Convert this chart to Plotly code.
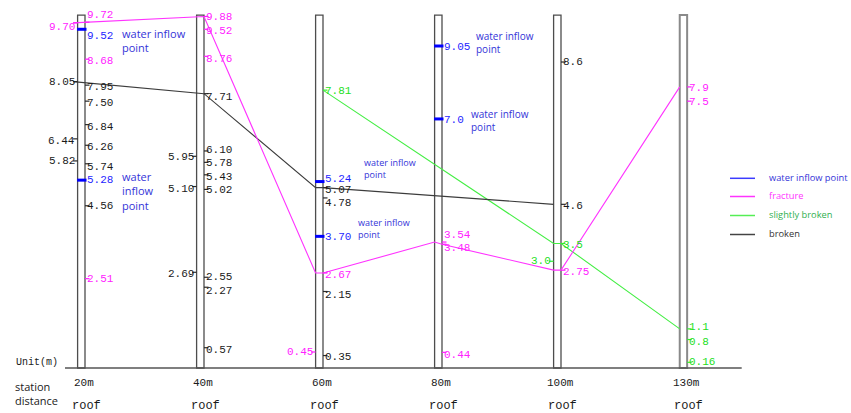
import plotly.graph_objects as go

# ---------------------------------------------------------------------------
# Data: roof observation boreholes (depth marks in metres)
# ---------------------------------------------------------------------------
stations = ["20m", "40m", "60m", "80m", "100m", "130m"]
station_slot = [0, 1, 2, 3, 4, 5.06]          # horizontal slot of each column
column_top = 9.92                              # drawn height of each borehole column (m)

# (label, kind, side) - side "R" = mark on right of column, "L" = on left
marks_20m = [("9.72", "fracture", "R"), ("9.52", "water", "R"), ("8.68", "fracture", "R"),
             ("7.95", "broken", "R"), ("7.50", "broken", "R"), ("6.84", "broken", "R"),
             ("6.26", "broken", "R"), ("5.74", "broken", "R"), ("5.28", "water", "R"),
             ("4.56", "broken", "R"), ("2.51", "fracture", "R"),
             ("9.70", "fracture", "L"), ("8.05", "broken", "L"), ("6.44", "broken", "L"),
             ("5.82", "broken", "L")]
marks_40m = [("9.88", "fracture", "R"), ("9.52", "fracture", "R"), ("8.76", "fracture", "R"),
             ("7.71", "broken", "R"), ("6.10", "broken", "R"), ("5.78", "broken", "R"),
             ("5.43", "broken", "R"), ("5.02", "broken", "R"), ("2.55", "broken", "R"),
             ("2.27", "broken", "R"), ("0.57", "broken", "R"),
             ("5.95", "broken", "L"), ("5.10", "broken", "L"), ("2.69", "broken", "L")]
marks_60m = [("7.81", "slight", "R"), ("5.24", "water", "R"), ("5.07", "broken", "R"),
             ("4.78", "broken", "R"), ("3.70", "water", "R"), ("2.67", "fracture", "R"),
             ("2.15", "broken", "R"), ("0.35", "broken", "R"),
             ("0.45", "fracture", "L")]
marks_80m = [("9.05", "water", "R"), ("7.0", "water", "R"), ("3.54", "fracture", "R"),
             ("3.48", "fracture", "R"), ("0.44", "fracture", "R")]
marks_100m = [("8.6", "broken", "R"), ("4.6", "broken", "R"), ("3.5", "slight", "R"),
              ("2.75", "fracture", "R"), ("3.0", "slight", "L")]
marks_130m = [("7.9", "fracture", "R"), ("7.5", "fracture", "R"), ("1.1", "slight", "R"),
              ("0.8", "slight", "R"), ("0.16", "slight", "R")]

station_marks = [marks_20m, marks_40m, marks_60m, marks_80m, marks_100m, marks_130m]

# Connecting zones between boreholes: (station, depth label, attach point)
fracture_path = [("20m", "9.70", "Lt"), ("40m", "9.88", "L"), ("40m", "9.88", "R"),
                 ("60m", "2.67", "L"), ("60m", "2.67", "R"), ("80m", "3.54", "L"),
                 ("80m", "3.48", "R"), ("100m", "2.75", "L"), ("100m", "2.75", "R"),
                 ("130m", "7.9", "L")]
slight_path = [("60m", "7.81", "R"), ("100m", "3.5", "L"), ("100m", "3.5", "R"),
               ("130m", "1.1", "L")]
broken_path = [("20m", "8.05", "Lt"), ("40m", "7.71", "L"), ("40m", "7.71", "R"),
               ("60m", "5.07", "L"), ("60m", "5.07", "R"), ("100m", "4.6", "L")]

# Water inflow notes: (station, depth label, text lines)
water_notes = [("20m", "9.52", ["water inflow", "point"]),
               ("20m", "5.28", ["water", "inflow", "point"]),
               ("60m", "5.24", ["water inflow", "point"]),
               ("60m", "3.70", ["water inflow", "point"]),
               ("80m", "9.05", ["water inflow", "point"]),
               ("80m", "7.0", ["water inflow", "point"])]

legend_items = [("water", "water inflow point"), ("fracture", "fracture"),
                ("slight", "slightly broken"), ("broken", "broken")]

# ---------------------------------------------------------------------------
# Geometry / style
# ---------------------------------------------------------------------------
W, H = 851, 413
PX_X = 119.0           # pixels per station slot
X0_PX = 81.3           # pixel of first slot
PX_M = 35.58           # pixels per metre
BASE_PX = 368.0        # pixel row of the 0 m line

x_range = [-X0_PX / PX_X, (W - X0_PX) / PX_X]
y_range = [-(H - BASE_PX) / PX_M, BASE_PX / PX_M]

HALF = 3.7 / PX_X      # half column width (slot units)
TICK = 4.5 / PX_X      # tick length

NUM_FONT = "Liberation Mono"
SANS_FONT = "Open Sans"

mark_color = {"fracture": "#ff1aff", "slight": "#33ee33", "broken": "#2a2a2a", "water": "#0000ff"}
text_color = {"fracture": "#ff22ff", "slight": "#22e022", "broken": "#1a1a1a", "water": "#1f1fff"}
line_color = {"fracture": "#ff33ff", "slight": "#44ee44", "broken": "#3c3c3c"}
legend_text_color = {"water": "#3434d8", "fracture": "#ff33ff", "slight": "#2fb04f", "broken": "#333333"}
legend_line_color = {"water": "#3b3bff", "fracture": "#ff33ff", "slight": "#55ee55", "broken": "#444444"}

# vertical nudges of depth labels (px, +up); default slightly below the tick
DEFAULT_NUDGE = -2
label_nudge = {
    ("20m", "9.72"): 7, ("20m", "9.52"): -7, ("20m", "5.74"): -3, ("20m", "5.28"): 0,
    ("20m", "4.56"): 0, ("20m", "2.51"): 0, ("20m", "9.70"): -4, ("20m", "8.05"): 0,
    ("20m", "5.82"): 0,
    ("40m", "9.88"): -1, ("40m", "8.76"): -3, ("40m", "7.71"): -3, ("40m", "6.10"): 1,
    ("40m", "5.78"): -1, ("40m", "5.43"): -2, ("40m", "5.02"): -1, ("40m", "2.55"): 0,
    ("40m", "2.27"): -3.5, ("40m", "5.95"): -1,
    ("60m", "7.81"): -1, ("60m", "5.24"): 3, ("60m", "5.07"): -2, ("60m", "4.78"): -5,
    ("60m", "3.70"): -1, ("60m", "2.15"): -3, ("60m", "0.35"): -1, ("60m", "0.45"): 0,
    ("80m", "9.05"): -1, ("80m", "7.0"): -1, ("80m", "3.54"): 7, ("80m", "3.48"): -4,
    ("80m", "0.44"): -3,
    ("100m", "8.6"): 0, ("100m", "3.0"): 0,
    ("130m", "7.9"): -1, ("130m", "7.5"): -1, ("130m", "1.1"): 2, ("130m", "0.16"): 0,
}

# note placement: (x offset px from column centre, first-line offset px below tick, font size)
note_layout = {
    ("20m", "9.52"): (40.7, 5.0, 11), ("20m", "5.28"): (40.7, -1.0, 11),
    ("60m", "5.24"): (44.2, -18.6, 9), ("60m", "3.70"): (38.2, -12.4, 9),
    ("80m", "9.05"): (37.7, -9.3, 10), ("80m", "7.0"): (32.4, -4.3, 10),
}

slot_of = dict(zip(stations, station_slot))


def attach_x(station, side):
    s = slot_of[station]
    return {"L": s - HALF, "R": s + HALF, "Lt": s - HALF - TICK}[side]


def paper_y(py):
    return 1 - py / H


def paper_x(px):
    return px / W


fig = go.Figure()
shapes = []
annotations = []

# borehole columns
for i, st in enumerate(stations):
    s = station_slot[i]
    last = i == len(stations) - 1
    shapes.append(dict(type="rect", xref="x", yref="y", x0=s - HALF, x1=s + HALF,
                       y0=0, y1=column_top, fillcolor="white", layer="below",
                       line=dict(color="#8a8a8a" if last else "#4d4d4d", width=2 if last else 1.3)))

# zone connection lines
for kind, path in [("slight", slight_path), ("broken", broken_path), ("fracture", fracture_path)]:
    fig.add_trace(go.Scatter(
        x=[attach_x(st, side) for st, _, side in path],
        y=[float(v) for _, v, _ in path],
        mode="lines", line=dict(color=line_color[kind], width=1.1),
        hoverinfo="skip", showlegend=False))

# depth ticks and labels
for i, st in enumerate(stations):
    s = station_slot[i]
    for lab, kind, side in station_marks[i]:
        v = float(lab)
        if kind == "water":
            shapes.append(dict(type="line", xref="x", yref="y", x0=s - HALF - 0.5 / PX_X,
                               x1=s + HALF + 1.5 / PX_X, y0=v, y1=v,
                               line=dict(color=mark_color[kind], width=3)))
        elif side == "R":
            shapes.append(dict(type="line", xref="x", yref="y", x0=s + HALF, x1=s + HALF + TICK,
                               y0=v, y1=v, line=dict(color=mark_color[kind], width=1.2)))
        else:
            shapes.append(dict(type="line", xref="x", yref="y", x0=s - HALF - TICK, x1=s - HALF,
                               y0=v, y1=v, line=dict(color=mark_color[kind], width=1.2)))
        nudge = label_nudge.get((st, lab), DEFAULT_NUDGE)
        if side == "R":
            annotations.append(dict(x=s + HALF, y=v, xref="x", yref="y", text=lab,
                                    xanchor="left", yanchor="middle", xshift=2, yshift=nudge,
                                    showarrow=False, borderpad=0, borderwidth=0,
                                    font=dict(family=NUM_FONT, size=11, color=text_color[kind])))
        else:
            annotations.append(dict(x=s - HALF, y=v, xref="x", yref="y", text=lab,
                                    xanchor="right", yanchor="middle", xshift=-3, yshift=nudge,
                                    showarrow=False, borderpad=0, borderwidth=0,
                                    font=dict(family=NUM_FONT, size=11, color=text_color[kind])))

# water inflow notes (one text block per note)
for st, lab, lines in water_notes:
    dx, dy, fs = note_layout[(st, lab)]
    step = fs * 1.12
    centre = dy + (len(lines) - 1) * step / 2
    annotations.append(dict(x=slot_of[st], y=float(lab), xref="x", yref="y",
                            text="<br>".join(lines), align="left",
                            xanchor="left", yanchor="middle", xshift=dx, yshift=-centre,
                            showarrow=False, borderpad=0, borderwidth=0,
                            font=dict(family=SANS_FONT, size=fs, color="#3434d8")))

# ground (0 m) line
shapes.append(dict(type="line", xref="x", yref="y", x0=(65 - X0_PX) / PX_X,
                   x1=(741.7 - X0_PX) / PX_X, y0=0, y1=0,
                   line=dict(color="#555555", width=1.5)))

# station names and "roof"
for i, st in enumerate(stations):
    annotations.append(dict(x=station_slot[i], y=paper_y(383), xref="x", yref="paper",
                            text=st, xanchor="center", yanchor="middle", xshift=3,
                            showarrow=False, borderpad=0,
                            font=dict(family=NUM_FONT, size=11, color="#1a1a1a")))
    annotations.append(dict(x=station_slot[i], y=paper_y(405.5), xref="x", yref="paper",
                            text="roof", xanchor="center", yanchor="middle", xshift=5,
                            showarrow=False, borderpad=0,
                            font=dict(family=NUM_FONT, size=12, color="#1a1a1a")))

annotations.append(dict(x=paper_x(36.7), y=paper_y(362), xref="paper", yref="paper",
                        text="Unit(m)", xanchor="center", yanchor="middle", showarrow=False,
                        borderpad=0, font=dict(family=NUM_FONT, size=10, color="#1a1a1a")))
annotations.append(dict(x=paper_x(14), y=paper_y(393), xref="paper", yref="paper",
                        text="station<br>distance", align="left", xanchor="left",
                        yanchor="middle", showarrow=False, borderpad=0,
                        font=dict(family=SANS_FONT, size=11, color="#1a1a1a")))

# legend
legend_rows = [178.3, 196.5, 215.5, 234.5]
for (kind, name), py in zip(legend_items, legend_rows):
    shapes.append(dict(type="line", xref="paper", yref="paper", x0=paper_x(730),
                       x1=paper_x(755), y0=paper_y(py), y1=paper_y(py),
                       line=dict(color=legend_line_color[kind], width=1.5)))
    annotations.append(dict(x=paper_x(768), y=paper_y(py - 1), xref="paper", yref="paper",
                            text=name, xanchor="left", yanchor="middle", showarrow=False,
                            borderpad=0, font=dict(family=SANS_FONT, size=9.3,
                                                   color=legend_text_color[kind])))

fig.update_layout(
    width=W, height=H, autosize=False,
    margin=dict(l=0, r=0, t=0, b=0, pad=0),
    paper_bgcolor="white", plot_bgcolor="white",
    showlegend=False,
    xaxis=dict(range=x_range, visible=False, fixedrange=True),
    yaxis=dict(range=y_range, visible=False, fixedrange=True),
    shapes=shapes, annotations=annotations,
)

fig.write_html("out.html")
